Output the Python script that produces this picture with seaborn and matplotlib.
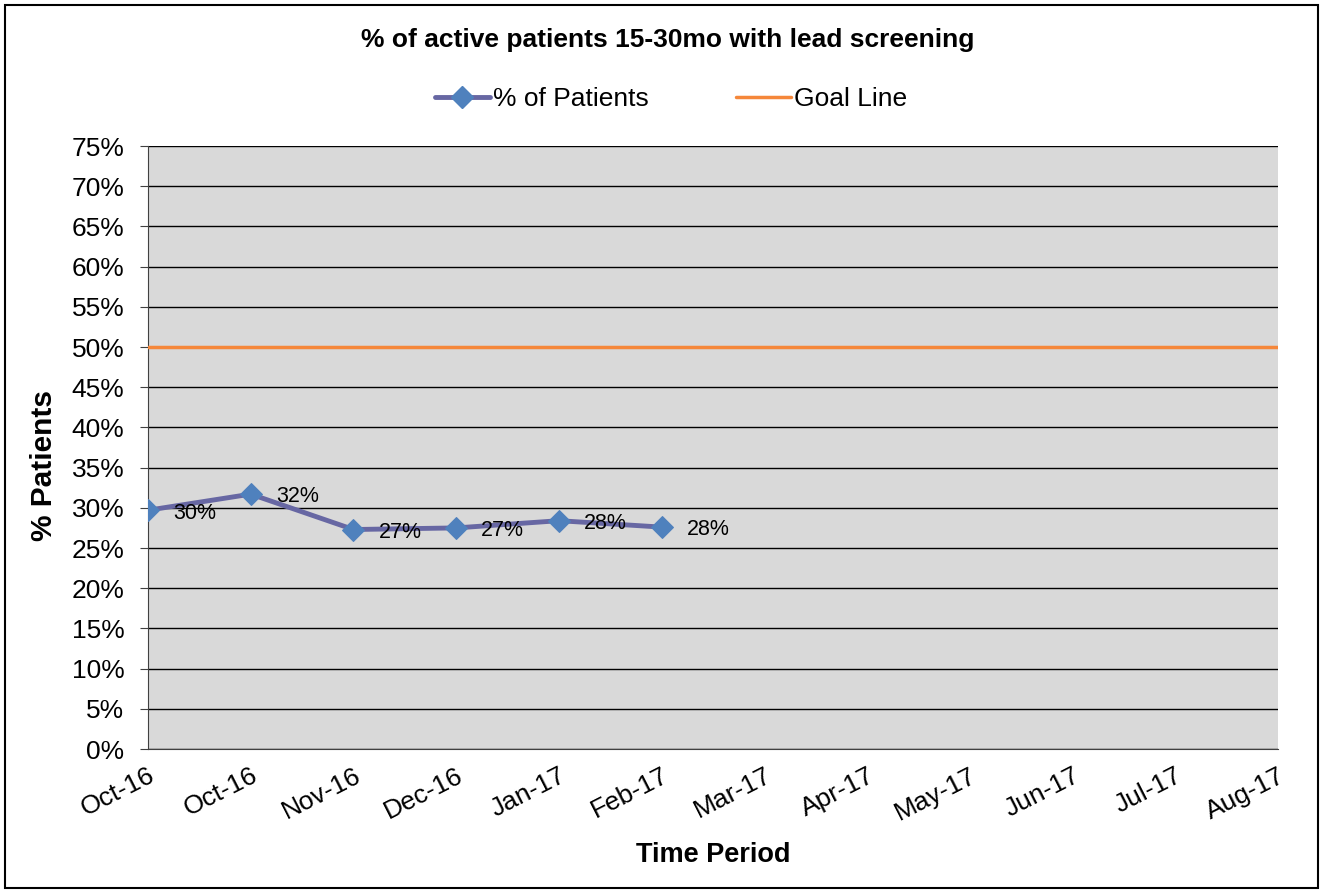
import matplotlib
matplotlib.use('Agg')
import matplotlib.pyplot as plt
import seaborn as sns
import pandas as pd
from matplotlib.patches import Rectangle
from matplotlib.lines import Line2D

sns.set_style('white')
plt.rcParams['font.family'] = ['Liberation Sans', 'DejaVu Sans']
plt.rcParams['text.color'] = 'black'
plt.rcParams['axes.labelcolor'] = 'black'
plt.rcParams['xtick.color'] = 'black'
plt.rcParams['ytick.color'] = 'black'

periods = ['Oct-16', 'Oct-16', 'Nov-16', 'Dec-16', 'Jan-17', 'Feb-17',
           'Mar-17', 'Apr-17', 'May-17', 'Jun-17', 'Jul-17', 'Aug-17']
pct_patients = [29.7, 31.7, 27.3, 27.5, 28.4, 27.6]
pct_labels = ['30%', '32%', '27%', '27%', '28%', '28%']
goal = [50] * len(periods)

df = pd.DataFrame({'pos': range(len(pct_patients)), 'pct': pct_patients})
goal_df = pd.DataFrame({'pos': range(len(periods)), 'goal': goal})

fig = plt.figure(figsize=(13.23, 8.92), dpi=100)
ax = fig.add_axes([0.1119, 0.1603, 0.966 - 0.1119, 0.8363 - 0.1603])
ax.set_facecolor('#D9D9D9')

line_col = '#6767A3'
marker_col = '#4F81BD'
goal_col = '#F5873A'

sns.lineplot(data=goal_df, x='pos', y='goal', ax=ax, color=goal_col, linewidth=2.5, zorder=3)
sns.lineplot(data=df, x='pos', y='pct', ax=ax, color=line_col, linewidth=3.5,
             marker='D', markersize=11, markerfacecolor=marker_col,
             markeredgecolor=marker_col, zorder=4)

# data labels to the right of each point
for x, y, lab in zip(df['pos'], df['pct'], pct_labels):
    ax.annotate(lab, (x, y), xytext=(18, -2), textcoords='offset points',
                ha='left', va='center', fontsize=15.5, color='black', zorder=5)

ax.set_xlim(0, len(periods) - 1)
ax.set_ylim(0, 75)
ax.set_yticks(range(0, 80, 5))
ax.set_yticklabels([f'{v}%' for v in range(0, 80, 5)], fontsize=19)
ax.set_xticks(range(len(periods)))
ax.set_xticklabels(periods, fontsize=19, rotation=27, ha='right', rotation_mode='anchor')
ax.yaxis.grid(True, color='black', linewidth=1)
ax.set_axisbelow(True)
for s in ['top', 'right']:
    ax.spines[s].set_visible(False)
ax.spines['left'].set_color('#404040')
ax.spines['bottom'].set_color('#404040')
ax.tick_params(axis='y', which='major', left=True, length=6, color='#404040', pad=11)
ax.tick_params(axis='x', which='major', bottom=False, pad=7)
ax.set_xlabel('')
ax.set_ylabel('')

fig.text(0.539, 0.0415, 'Time Period', ha='center', va='center',
         fontsize=19.5, fontweight='bold')
fig.text(0.0333, 0.4776, '% Patients', ha='center', va='center', rotation=90,
         fontsize=21.5, fontweight='bold')

fig.text(0.505, 0.955, '% of active patients 15-30mo with lead screening',
         ha='center', va='center', fontsize=19, fontweight='bold')

handles = [Line2D([], [], color=line_col, linewidth=3.5, marker='D', markersize=11,
                  markerfacecolor=marker_col, markeredgecolor=marker_col),
           Line2D([], [], color=goal_col, linewidth=2.5)]
fig.legend(handles, ['% of Patients', 'Goal Line'], loc='center', ncol=2,
           bbox_to_anchor=(0.507, 0.889), frameon=False, fontsize=19,
           handlelength=2.1, handletextpad=0.1, columnspacing=3.3)

fig.patches.append(Rectangle((0.004, 0.004), 0.992, 0.99, transform=fig.transFigure,
                             fill=False, edgecolor='black', linewidth=1.5))

fig.savefig('out.png', dpi=100)
